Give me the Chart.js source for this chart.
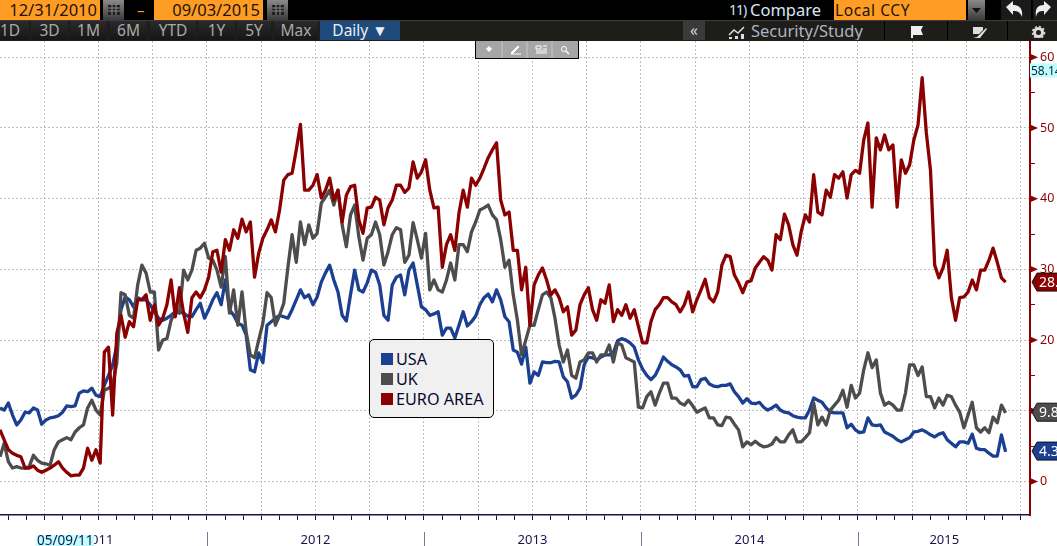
<!DOCTYPE html>
<html><head><meta charset="utf-8">
<script src="https://cdn.jsdelivr.net/npm/chart.js@4/dist/chart.umd.min.js"></script>
<style>
html,body{margin:0;padding:0;background:#fff;overflow:hidden;width:1057px;height:546px;font-family:"Noto Sans",sans-serif}
canvas{position:absolute;left:0;top:0}
.b{position:absolute;box-sizing:border-box;white-space:pre;overflow:hidden}
.or{background:#ff9c24;color:#1c1408;font-size:16.5px;line-height:20px;height:20px;top:0}
.btn{top:21px;height:19px;background:linear-gradient(#2a2a2a,#161616);color:#a9a9a9;font-size:15.5px;line-height:19px;text-align:center}
.ic{background:linear-gradient(#8a8a8a,#3a3a3a);top:0;height:20px}
.legend{position:absolute;left:369px;top:339px;width:125px;height:79px;background:#f0f0f0;border:1px solid #000;border-radius:5px;box-sizing:border-box;color:#0a0a30;font-size:16.2px}
.legend i{position:absolute;left:11px;width:12px;height:12px}
.legend span{position:absolute;left:26px;line-height:20px}
</style></head><body>
<canvas id="c" width="1057" height="546"></canvas>
<div class="b" style="left:0;top:0;width:1057px;height:20px;background:#000"></div>
<div class="b" style="left:0;top:20px;width:1057px;height:21px;background:#1f1d1a;border-top:1px solid #3c3c3c"></div>
<div class="b or" style="left:0;width:100px;text-align:right;padding-right:3px">12/31/2010</div>
<div class="b ic" style="left:103px;width:21px"><svg width="21" height="20"><rect x="5" y="5" width="12" height="10" fill="#222"/><path d="M5 8h12M5 11h12M9 5v10M13 5v10" stroke="#888"/></svg></div>
<div class="b" style="left:137px;top:0;width:12px;height:20px;color:#ff9c24;font-size:15px;line-height:20px">–</div>
<div class="b or" style="left:154px;width:109px;text-align:right;padding-right:3px">09/03/2015</div>
<div class="b ic" style="left:267px;width:21px"><svg width="21" height="20"><rect x="5" y="5" width="12" height="10" fill="#222"/><path d="M5 8h12M5 11h12M9 5v10M13 5v10" stroke="#888"/></svg></div>
<div class="b" style="left:729px;top:0;width:20px;height:20px;color:#d8e6f5;font-size:14px;line-height:20px;letter-spacing:-1px">11)</div>
<div class="b" style="left:750px;top:0;width:76px;height:20px;color:#d8e6f5;font-size:16.500px;line-height:20px">Compare</div>
<div class="b or" style="left:834px;width:132px;padding-left:1px;font-size:15.5px;letter-spacing:.6px">Local CCY</div>
<div class="b ic" style="left:968px;width:17px"><svg width="17" height="20"><path d="M4 8h9l-4.500 5z" fill="#111"/></svg></div>
<div class="b" style="left:1001px;top:0;width:30px;height:20px;background:#1a1a1a"><svg width="30" height="20"><path d="M5 7l7-6v4c7 0 10 4 9 12-2-5-4-6-9-6v4z" fill="#eee"/></svg></div>
<div class="b" style="left:1033px;top:0;width:24px;height:20px;background:#1a1a1a"><svg width="24" height="20"><path d="M18 7l-7-6v4c-7 0-9 4-8 12 1-5 3-6 8-6v4z" fill="#eee"/></svg></div>
<div class="b btn" style="left:0;width:29px;padding-right:9px">1D</div>
<div class="b btn" style="left:31px;width:37px">3D</div>
<div class="b btn" style="left:70px;width:37px">1M</div>
<div class="b btn" style="left:110px;width:37px">6M</div>
<div class="b btn" style="left:150px;width:46px">YTD</div>
<div class="b btn" style="left:198px;width:37px">1Y</div>
<div class="b btn" style="left:237px;width:34px">5Y</div>
<div class="b btn" style="left:274px;width:44px">Max</div>
<div class="b btn" style="left:320px;width:80px;background:#1f4a7c;color:#e8eef5">Daily ▼</div>
<div class="b btn" style="left:683px;width:22px;background:#3a3a3a;color:#cfd8e4">«</div>
<div class="b" style="left:727px;top:24px;width:20px;height:15px"><svg width="20" height="15"><path d="M2 9l5-5 4 3 6-6" stroke="#ddd" fill="none" stroke-width="1.500"/><path d="M2 11h3v3H2zM8 10h3v4H8zM14 8h3v6h-3z" fill="#ddd"/></svg></div>
<div class="b" style="left:751px;top:21px;width:120px;height:19px;color:#a9b4c2;font-size:16.5px;line-height:19px">Security/Study</div>
<div class="b" style="left:884px;top:21px;width:1px;height:19px;background:#000"></div>
<div class="b" style="left:909px;top:23px;width:16px;height:15px"><svg width="16" height="15"><path d="M2 1h12l-2 4 2 5H4v4H2z" fill="#eee"/></svg></div>
<div class="b" style="left:947px;top:21px;width:1px;height:19px;background:#000"></div>
<div class="b" style="left:972px;top:23px;width:16px;height:15px"><svg width="16" height="15"><path d="M1 2h10v3L7 9H1zM5 12l9-9 1 1-7 9H1z" fill="#ddd"/></svg></div>
<div class="b" style="left:1007px;top:21px;width:1px;height:19px;background:#000"></div>
<div class="b" style="left:1031px;top:23px;width:15px;height:15px"><svg width="15" height="15"><circle cx="7.500" cy="7.500" r="4" fill="none" stroke="#ddd" stroke-width="3"/><circle cx="7.500" cy="7.500" r="6" fill="none" stroke="#ddd" stroke-width="1.500" stroke-dasharray="2 2"/></svg></div>
<div class="b" style="left:475px;top:41px;width:104px;height:18px;background:#a6a6a6;border:1px solid #000;border-top:none"><svg width="102" height="17" style="display:block"><path d="M26 0v17M51 0v17M76 0v17" stroke="#c8c8c8"/><path d="M13 5l3 3-3 3-3-3z" fill="#fff"/><path d="M35 12l7-7 1 1-7 7z M35 13h10" stroke="#fff" fill="#fff"/><path d="M60 5h5v3h-5zM67 5h4M67 8h4M60 10h11M60 12h11" stroke="#fff" fill="none"/><circle cx="88" cy="8" r="2.500" stroke="#fff" fill="none"/><path d="M90 10l3 3" stroke="#fff" stroke-width="1.500"/></svg></div>
<div class="legend">
 <i style="top:13px;background:#1b3f91"></i><span style="top:9px">USA</span>
 <i style="top:33px;background:#4d4d4d"></i><span style="top:29px">UK</span>
 <i style="top:53px;background:#8b0000"></i><span style="top:49px">EURO AREA</span>
</div>
<script>
const seriesNames = ["USA", "UK", "EURO AREA"];
const seriesColors = ["#1b3f91", "#4d4d4d", "#8b0000"];
const firstWeekYear = 2011.046;
const weeksPerYear = 52;
const usa = [10.4,10.1,11.1,9.4,8,8.7,9.8,9.7,10.4,10.1,8.1,8.7,9,9.1,9.3,9.8,10.7,10.6,10.7,12.5,12.8,12.7,13.2,12.2,12,13.6,15,16.5,19.3,24.3,
26.1,25.7,24.7,26,25.7,25.7,25,24,23.1,22.8,23.1,23.5,24,24,23.8,23.4,23.3,24.3,25.2,23.1,24.3,25.7,26.7,25,28.5,24.3,23.5,22.4,22.1,20.7,
15.8,15.5,18.2,16.8,22.1,22.6,23.1,23.5,23.3,23.1,24.3,25.7,27.1,26,26.4,25,26.1,28.2,29.5,30.6,28.5,26.8,23.5,22.7,26.4,29.9,27.1,26.8,28.1,29.9,
29.6,27.8,23.5,22.8,27.8,28.9,29.2,26.4,29.9,30.9,27.8,24.7,24.3,23.5,23.7,24,20.7,21.7,21.7,20.3,22.1,24,22,22.6,23.4,25,26,26.5,25.4,27.1,
25.7,23.3,22.6,18.6,18.3,16.6,19,13.9,15.5,15,16.9,16.8,16.8,17,16.9,14.8,14.1,11.8,12.2,13.2,16.5,17.6,17.5,17.2,17.6,17.9,17.9,18.2,19.9,20.2,
20,19.6,19,17.2,15.9,15,14.4,15,16.2,17.6,17,16.5,16.2,15.8,14.9,15,13.4,13.4,14.4,14.6,13.8,13.5,13.4,13.6,13.6,13.8,12.7,12,11.1,11.7,
11.1,11,11.2,10.5,10.1,10.4,10.8,10.1,9.8,9.7,9.3,9.1,9,9,10.1,11.8,11.5,11.2,10.4,9.8,9.7,9.7,9.7,7.6,8.1,7.3,6.9,7,9,8,
7.9,8,7,6.7,6.4,5.9,5.6,5.9,6.2,7,7.1,7.3,7,6.6,6.3,6.7,6.9,5.9,5.4,4.9,5.6,5.6,5.4,6.7,4.7,4.5,4.5,4,3.6,3.6,6.6,4.2];
const uk = [3.5,5.4,2.8,1.9,2.1,1.9,1.9,2.1,3.7,3,2.6,2.5,2.3,4.5,5.6,5.9,6.2,5.9,7,7.6,8,10.4,11.5,10.1,9.4,12.9,13.2,13.6,16.8,26.7,
26.4,23.5,23.1,27.8,30.6,29.5,26.8,26.8,18.6,20,20.2,22.8,24,23.8,29.9,28.5,29.9,32.7,33,33.7,31.6,31.3,29.9,27.5,31.8,23.8,27.1,22.1,26.8,21.1,
17.9,17.5,20,22.4,26.7,26,22.1,23.5,25.2,30.3,34.9,31,36.7,33.5,36.3,34.4,35.1,39.4,40.2,41.2,39.1,41.2,36.3,33.2,37.7,39.1,34.6,31.3,34.4,34.9,
36.7,34.9,30.6,32.5,34.9,35.9,35.6,31,32,36.6,34.2,31.6,35.1,27.1,28.5,27.1,26.8,28.5,30.9,28.5,33.5,33.5,32.5,35.3,36.7,38.4,38.7,39.1,37.7,37,
34.2,30.3,31.3,26.4,22.8,17.9,20,22.1,22.1,24.3,26.4,26.8,26,23.1,19.3,16.9,18.6,15,14.6,16.9,17.2,18.2,18.2,16.9,17.9,17.9,19.3,16.9,19.6,19.3,
17.5,17.2,16.9,10.5,10.4,12,12.7,10.8,12.5,13.9,13.9,11.8,11.8,11.1,10.8,11.5,10.7,9.8,10.1,10.4,9,9,8,7.9,9.1,9,8.1,7.3,4.9,5.6,
5.2,5.7,5.2,4.9,5,5.3,6.2,5.6,5.6,6.6,7.3,5.6,5.6,6.2,6.9,11.1,8,9.1,8,10.1,10.8,11.5,12.9,10.5,13.6,11.8,12.5,15.8,18.2,16.1,
17.2,12.5,10.8,11.2,10.8,10.1,10.1,12.5,16.5,16.5,15,16.2,12,12,10.4,11.8,10.8,12.2,12,10.8,9.8,7.6,9.4,11.2,7.6,7,7.6,6.9,9.1,8.3,10.8,9.7];
const euroArea = [7.3,5.9,4.5,4,3.7,3.5,1.9,1.9,2.2,1.6,1.3,1.6,1.9,2.3,2.8,1.9,1.3,0.8,0.9,0.9,1.9,4.7,3,4.5,2.6,18.3,19,9.4,21,23.5,
20.4,22.6,21.9,25.7,25.7,26.4,22.8,25,22.1,23.1,25,28.5,23.3,27.4,23.8,21.1,26,26.8,26,27.1,28.9,32.5,32.7,29.6,34.2,32.7,35.6,34.4,37.1,35.3,
36.7,28.9,32.3,34.4,35.6,37,35.3,38.4,42.6,43.4,43.6,46.9,50.5,41.2,41.2,41.9,43.4,40.1,41.2,42.9,39.8,41.2,36.7,40.5,41.7,41.9,37,35.1,38.7,38.8,
40.2,39.8,36.3,38.7,39.8,41.9,41.9,40.9,41.5,45.2,42.9,43.8,45.5,41.2,38.7,38.8,30.3,33.5,34.9,32.7,38,41.2,38.8,42.9,41.9,42.9,44.3,45.8,46.9,47.9,
39.8,37.7,38.1,32.7,32.7,27.1,30.3,22.1,27.8,29.2,30.2,28.5,26.4,27.1,26,24,24.7,20.7,21.4,25,26.4,27.4,24.3,22.8,25.7,25.2,27.8,22.6,24.3,23.5,
25,23.1,24.3,21.9,19.6,19.6,22.6,24.3,25,26,26,25.4,25,24,25,26.8,24,25.7,27.1,28.6,26,25.4,26.8,30.6,32,31.8,29.2,28.1,26.7,28.2,
28.4,30.2,31,31.8,31.3,29.9,34.9,34.2,37.8,36.3,33.5,32,35.3,37.7,36.7,43.4,38.1,37.7,41.2,40.2,43.4,42.9,43.8,40.1,43.4,44,43.6,48.3,50.7,38.8,
48.6,46.9,49,46.9,47.6,38.8,45.5,43.6,44.8,48.3,50.4,57.1,49.3,44,30.6,28.8,30.2,32.7,26,22.8,26,26.1,26.8,28.5,27.1,29.9,29.9,31.3,33,31,28.8,28.2];
const yearLabels = [[2011.5,"2011"],[2012.5,"2012"],[2013.5,"2013"],[2014.5,"2014"],[2015.398,"2015"]];
const yearSeparators = [2012,2013,2014,2015];
const monthTicks = [];
for (let y=2011;y<2016;y++) for (let m=0;m<12;m++) monthTicks.push(y+m/12);
const lastTags = [["28.24",28.2,"#8b0000"],["9.8",9.8,"#4d4d4d"],["4.3",4.3,"#1b3f91"]];
const crossY = ["58.14",58.14];
const crossX = ["05/09/11",2011.347];
const xMin=2011.046, xMax=2015.793, yMin=-4.74, yMax=62.3;

function pts(a){return a.map((v,i)=>({x:firstWeekYear+i/weeksPerYear,y:v}));}
const isQuarter=v=>Math.abs(v*4-Math.round(v*4))<1e-6;
const deco={id:'deco',afterDraw(ch){
 const c=ch.ctx,x=ch.scales.x,y=ch.scales.y,ax=x.right;
 c.save();
 c.fillStyle='#8b0000';
 for(let v=0;v<=60;v+=10){const p=y.getPixelForValue(v);c.beginPath();c.moveTo(ax,p-3.5);c.lineTo(ax+8,p);c.lineTo(ax,p+3.5);c.fill();}
 c.textBaseline='middle';c.textAlign='left';
 for(const [t,v,col] of lastTags){const p=y.getPixelForValue(v);
  c.fillStyle=col;c.strokeStyle='#111';c.lineWidth=1;c.beginPath();c.moveTo(ax+2,p);c.lineTo(ax+7,p-9);c.lineTo(1060,p-9);c.lineTo(1060,p+9);c.lineTo(ax+7,p+9);c.closePath();c.fill();c.stroke();
  c.fillStyle='#fff';c.font='14px "Noto Sans"';c.fillText(t,ax+9,p+1);}
 const py=y.getPixelForValue(crossY[1]);
 c.fillStyle='#c0ffff';c.fillRect(ax,py-7,27,14);c.fillStyle='#10203a';c.font='12px "Noto Sans"';c.fillText(crossY[0],ax+1,py+1);
 c.strokeStyle='#77779a';c.lineWidth=1;
 for(const s of yearSeparators){const p=Math.round(x.getPixelForValue(s))+.5;c.beginPath();c.moveTo(p,532);c.lineTo(p,546);c.stroke();}
 const px=x.getPixelForValue(crossX[1]);
 c.fillStyle='#c0ffff';c.fillRect(px-29,535,58,11);c.fillStyle='#16164e';c.textAlign='center';c.font='13.5px "Noto Sans"';c.fillText(crossX[0],px,541);
 c.restore();
}};
new Chart(document.getElementById('c'),{
 type:'line',
 data:{datasets:[usa,uk,euroArea].map((a,i)=>({label:seriesNames[i],data:pts(a),borderColor:seriesColors[i],borderWidth:3.3,pointRadius:0,tension:0,borderJoinStyle:'round',order:3-i}))},
 plugins:[deco],
 options:{responsive:false,animation:false,parsing:false,normalized:true,
  layout:{padding:{left:0,right:0,top:41,bottom:0}},
  plugins:{legend:{display:false},tooltip:{enabled:false}},
  scales:{
   x:{type:'linear',min:xMin,max:xMax,
    afterFit(s){s.height=31;s.paddingLeft=0;s.paddingRight=0;},
    afterBuildTicks(s){const t=monthTicks.filter(v=>v>=xMin&&v<=xMax).map(v=>({value:v}));
      t.push({value:yearLabels[4][0]});t.sort((a,b)=>a.value-b.value);s.ticks=t;},
    border:{color:'#16164e',width:1.5,dash:[2,2]},
    grid:{color:c=>c.tick&&isQuarter(c.tick.value)?'#bdbdbd':'rgba(0,0,0,0)',lineWidth:1,tickLength:5,tickBorderDash:[],
      tickColor:c=>c.tick&&c.tick.value===yearLabels[4][0]?'rgba(0,0,0,0)':'#16164e'},
    ticks:{autoSkip:false,maxRotation:0,minRotation:0,padding:12,color:'#16164e',font:{family:'"Noto Sans"',size:13},
      callback(v){const f=yearLabels.find(l=>Math.abs(l[0]-v)<1e-6);return f?f[1]:'';}}
   },
   y:{type:'linear',position:'right',min:yMin,max:yMax,
    afterFit(s){s.width=27;s.paddingTop=0;s.paddingBottom=0;},
    afterBuildTicks(s){const t=[];for(let v=0;v<=60;v+=5)t.push({value:v});s.ticks=t;},
    border:{color:'#8b0000',width:2,dash:[2,2]},
    grid:{color:c=>c.tick&&c.tick.value%10===0?'#bdbdbd':'rgba(0,0,0,0)',lineWidth:1,tickLength:5,tickBorderDash:[],tickColor:'#8b0000'},
    ticks:{padding:5,color:'#8b0000',font:{family:'"Noto Sans"',size:12.5},callback(v){return v%10===0?String(v):'';}}
   }
  }
 }
});
</script>
</body></html>
